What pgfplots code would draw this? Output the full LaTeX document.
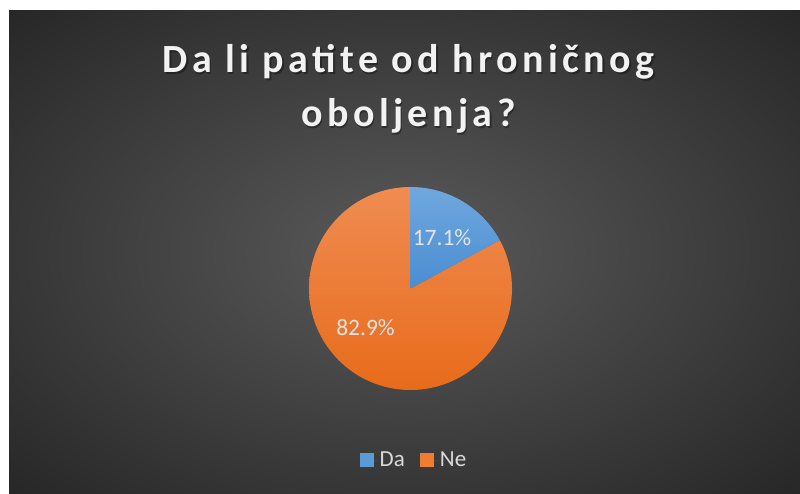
\documentclass[border=0pt]{standalone}
\usepackage{pgfplots}
\pgfplotsset{compat=1.18}
\usepackage{fontspec}
\setmainfont{Carlito}
\newfontfamily\titlefont[LetterSpace=11]{Carlito}
\definecolor{bgin}{HTML}{5A5A5A}
\definecolor{bgout}{HTML}{262626}
\definecolor{txt}{HTML}{D9D9D9}
\definecolor{lbl}{HTML}{E4E4E4}
\definecolor{titlec}{HTML}{F2F2F2}
\definecolor{bluetop}{HTML}{6FA8DE}
\definecolor{bluebot}{HTML}{4A8DD2}
\definecolor{orgtop}{HTML}{F08C52}
\definecolor{orgbot}{HTML}{E86B1B}
\definecolor{blueL}{HTML}{5B9BD5}
\definecolor{orgL}{HTML}{ED7D31}
\pgfdeclareradialshading{bgshade}{\pgfpoint{0bp}{0bp}}{color(0bp)=(bgin); color(36bp)=(bgout); color(50bp)=(bgout)}
\def\vDa{17.1}
\def\vNe{82.9}
\def\pr{101.5}
\begin{document}
\begin{tikzpicture}[x=1pt,y=1pt]
\fill[white] (0,0) rectangle (800,493);
\shade[shading=bgshade] (9,0) rectangle (800,482);
% title with shadow
\begin{scope}[every node/.style={anchor=base, inner sep=0pt, font=\titlefont\bfseries\fontsize{40}{48}\selectfont}]
\node[text=black, opacity=0.35] at (410,418.5) {Da li patite od hroničnog};
\node[text=black, opacity=0.35] at (410,364.5) {oboljenja?};
\node[text=titlec] at (408.5,420) {Da li patite od hroničnog};
\node[text=titlec] at (408.5,366) {oboljenja?};
\end{scope}
\begin{axis}[
  at={(410.5pt,204.5pt)}, anchor=center,
  x=1pt, y=1pt,
  xmin=-\pr, xmax=\pr, ymin=-\pr, ymax=\pr,
  hide axis, clip=false,
  legend columns=2,
  legend style={at={(0.517,-0.345)}, anchor=center, draw=none, fill=none,
    text=txt, font=\fontsize{23}{27}\selectfont, inner sep=0pt,
    /tikz/every even column/.append style={column sep=13pt}},
  legend image code/.code={\fill[#1] (0pt,-7pt) rectangle (14pt,7pt);\path (0pt,0pt) -- (18pt,0pt);},
]
\addlegendimage{fill=blueL, draw=none}
\addlegendentry{Da}
\addlegendimage{fill=orgL, draw=none}
\addlegendentry{Ne}
\shade[top color=orgtop, bottom color=orgbot] (axis cs:0,0) -- (axis cs:0,\pr)
  arc[start angle=90, end angle={90+3.6*\vNe}, radius=\pr pt] -- cycle;
\shade[top color=bluetop, bottom color=bluebot] (axis cs:0,0) -- (axis cs:0,\pr)
  arc[start angle=90, end angle={90-3.6*\vDa}, radius=\pr pt] -- cycle;
\node[text=lbl, inner sep=0pt, font=\fontsize{23.5}{28}\selectfont] at (axis cs:31.5,50.5) {17.1\%};
\node[text=lbl, inner sep=0pt, font=\fontsize{23.5}{28}\selectfont] at (axis cs:-45,-39) {82.9\%};
\end{axis}
\end{tikzpicture}
\end{document}
